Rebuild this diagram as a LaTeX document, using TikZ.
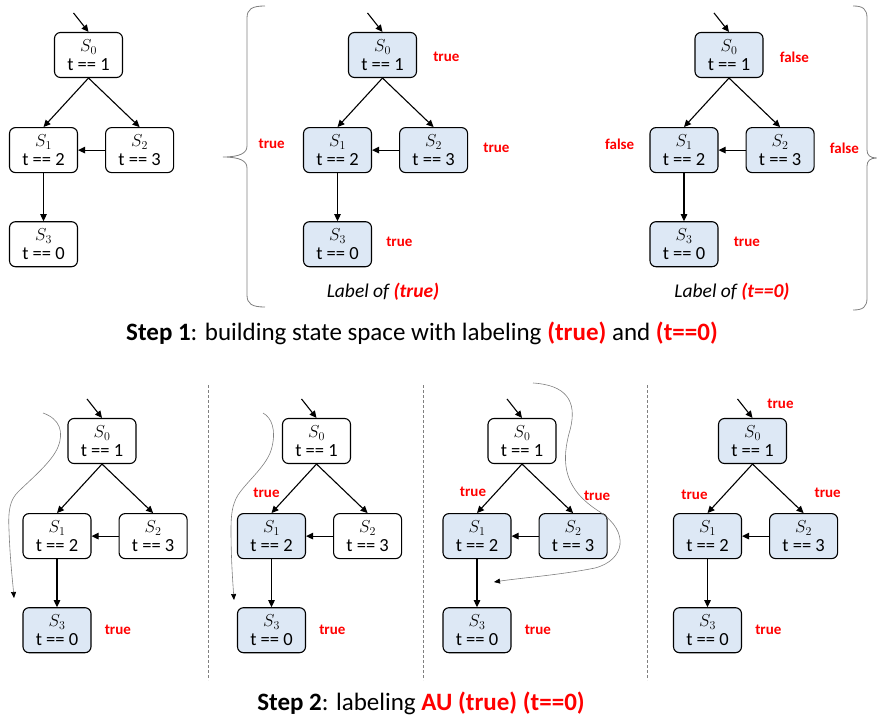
\documentclass[tikz,border=0pt]{standalone}
\usepackage{fontspec}
\setmainfont{Carlito}
\usetikzlibrary{arrows.meta,positioning}

\definecolor{litblue}{RGB}{221,232,245}

\begin{document}
\begin{tikzpicture}[
    x=1pt,y=-1pt,
    node distance=49pt and 27pt,
    state/.style={draw=black,rounded corners=6pt,line width=1.1pt,
      align=center,minimum width=68pt,minimum height=45pt,inner sep=0pt,
      font=\fontsize{18.5}{18.5}\selectfont},
    tag/.style={text=red,font=\fontsize{15}{16}\selectfont\bfseries,inner sep=0pt},
    arrow/.style={-{Triangle[length=7pt,width=6.5pt]},draw=black,line width=1.1pt},
    trail/.style={-{Triangle[length=6pt,width=5pt,color=black]},draw=gray,line width=0.6pt},
    brace/.style={draw=gray,line width=0.8pt},
    divider/.style={draw=gray,densely dashed,line width=0.7pt},
    caption/.style={font=\fontsize{25}{28}\selectfont}
  ]
  \useasboundingbox (0,0) rectangle (877,722);

  % the state space, drawn once per panel
  \foreach \p/\cx/\cy/\fa/\fb/\fc/\fd in {
      a/88.5/55/white/white/white/white,
      b/382.5/55/litblue/litblue/litblue/litblue,
      c/729/55/litblue/litblue/litblue/litblue,
      d/102/441/white/white/white/litblue,
      e/316.5/441/white/litblue/white/litblue,
      f/522/441/white/litblue/litblue/litblue,
      g/752.5/441/litblue/litblue/litblue/litblue}{
    \node[state,fill=\fa] (\p0) at (\cx,\cy) {$S_0$\\t == 1};
    \node[state,fill=\fb,below=of \p0,xshift=-45pt] (\p1) {$S_1$\\t == 2};
    \node[state,fill=\fc,right=of \p1] (\p2) {$S_2$\\t == 3};
    \node[state,fill=\fd,below=48pt of \p1] (\p3) {$S_3$\\t == 0};
    \coordinate (\p in) at ([xshift=-15pt,yshift=19pt]\p0.north);
    \draw[arrow] (\p in) -- (\p0.north);
    \draw[arrow] (\p0.south) -- (\p1.north);
    \draw[arrow] (\p0.south) -- (\p2.north);
    \draw[arrow] (\p2) -- (\p1);
    \draw[arrow] (\p1) -- (\p3);
  }

  % step 1: labels of (true)
  \node[tag,right=16pt of b0,yshift=-2pt] (bt0) {true};
  \node[tag,left=18pt of b1,yshift=6pt] (bt1) {true};
  \node[tag,right=15pt of b2,yshift=2pt] (bt2) {true};
  \node[tag,right=14pt of b3,yshift=2pt] (bt3) {true};
  \node[font=\fontsize{19.5}{22}\selectfont\itshape] (blab) at (383,292)
    {Label of \textcolor{red}{\bfseries(true)}};

  % step 1: labels of (t==0)
  \node[tag,right=16pt of c0,yshift=-2pt] (ct0) {false};
  \node[tag,left=15pt of c1,yshift=6pt] (ct1) {false};
  \node[tag,right=15pt of c2,yshift=2pt] (ct2) {false};
  \node[tag,right=15pt of c3,yshift=2pt] (ct3) {true};
  \node[font=\fontsize{19.5}{22}\selectfont\itshape] (clab) at (732,292)
    {Label of \textcolor{red}{\bfseries(t==0)}};

  \draw[brace] (265,6) .. controls (252,6) and (247,9) .. (247,18) -- (247,146)
    .. controls (247,153) and (240,157) .. (223,157)
    .. controls (240,157) and (247,161) .. (247,168) -- (247,295)
    .. controls (247,304) and (252,307) .. (265,307);
  \draw[brace] (853,6) .. controls (863,6) and (867,9) .. (867,18) -- (867,150)
    .. controls (867,155) and (870,158) .. (876.5,158)
    .. controls (870,158) and (867,161) .. (867,166) -- (867,298)
    .. controls (867,307) and (863,310) .. (853,310);

  \node[caption] (cap1) at (422,333)
    {\textbf{Step 1}: building state space with labeling
     \textcolor{red}{\bfseries(true)} and \textcolor{red}{\bfseries(t==0)}};

  % step 2: AU fixpoint
  \draw[divider] (208,385) -- (208,680);
  \draw[divider] (423,385) -- (423,680);
  \draw[divider] (647,385) -- (647,680);

  \node[tag,right=13pt of d3] (dt3) {true};
  \draw[trail] (43,413) .. controls (60,419) and (64,432) .. (58,447)
    .. controls (52,462) and (30,480) .. (18,492)
    .. controls (10,500) and (8,510) .. (9,530)
    .. controls (10,560) and (13,585) .. (14,598);

  \node[tag] (et1) at ([xshift=-5pt,yshift=20pt]e1.north) {true};
  \node[tag,right=13pt of e3] (et3) {true};
  \draw[trail] (263,413) .. controls (272,418) and (276,430) .. (272,447)
    .. controls (268,465) and (248,480) .. (238,495)
    .. controls (232,505) and (231,515) .. (231,530)
    .. controls (231,560) and (233,585) .. (234,600);

  \node[tag] (ft1) at ([xshift=-4pt,yshift=21pt]f1.north) {true};
  \node[tag] (ft2) at ([xshift=24pt,yshift=17pt]f2.north) {true};
  \node[tag,right=13pt of f3] (ft3) {true};
  \draw[trail] (533,383) .. controls (565,385) and (578,400) .. (570,430)
    .. controls (560,465) and (565,490) .. (600,512)
    .. controls (630,532) and (625,560) .. (595,568)
    .. controls (560,575) and (520,578) .. (494,582);

  \node[tag] (gt0) at ([xshift=28pt,yshift=14pt]g0.north) {true};
  \node[tag] (gt1) at ([xshift=-13pt,yshift=18pt]g1.north) {true};
  \node[tag] (gt2) at ([xshift=24pt,yshift=20pt]g2.north) {true};
  \node[tag,right=13pt of g3] (gt3) {true};

  \node[caption] (cap2) at (421,703)
    {\textbf{Step 2}: labeling \textcolor{red}{\bfseries AU (true) (t==0)}};
\end{tikzpicture}
\end{document}
